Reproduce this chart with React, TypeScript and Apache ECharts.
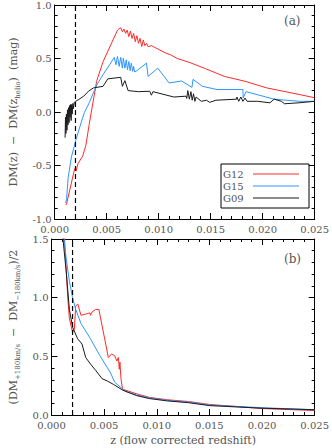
import React, { useEffect, useRef } from "react";
import * as echarts from "echarts";

// ---- Data (z, value) ----
const zTickLabels = ["0.000", "0.005", "0.010", "0.015", "0.020", "0.025"];
const topYTicks = ["-1.0", "-0.5", "0.0", "0.5", "1.0"];
const botYTicks = ["0.0", "0.5", "1.0", "1.5"];
const seriesNames = ["G12", "G15", "G09"];
const seriesColors = ["#ff2a2a", "#2e95ff", "#1a1a1a"];
const zRef = 0.002;

// Panel (a): DM(z) - DM(z_helio)
const g12Top: [number, number][] = [
  [0.00105, -0.87], [0.00114, -0.86], [0.00192, -0.53], [0.00207, -0.55], [0.00223, -0.485],
  [0.0027, -0.41], [0.003, -0.31], [0.00332, -0.115], [0.00362, 0.056], [0.00393, 0.225],
  [0.00403, 0.287], [0.00465, 0.47], [0.00604, 0.765], [0.0062, 0.78], [0.00635, 0.787],
  [0.00651, 0.75], [0.00666, 0.775], [0.00682, 0.735], [0.00697, 0.765], [0.00713, 0.704],
  [0.00728, 0.756], [0.00744, 0.688], [0.00759, 0.735], [0.00775, 0.657], [0.0079, 0.713],
  [0.00806, 0.642], [0.00821, 0.688], [0.00837, 0.611], [0.00852, 0.673], [0.00867, 0.62],
  [0.00883, 0.642], [0.00898, 0.611], [0.0093, 0.62], [0.0107, 0.55], [0.01115, 0.534],
  [0.0118, 0.5], [0.013, 0.462], [0.0145, 0.405], [0.0163, 0.333], [0.0183, 0.287],
  [0.0204, 0.225], [0.0235, 0.164], [0.025, 0.133],
];
const g15Top: [number, number][] = [
  [0.00105, -0.85], [0.00114, -0.82], [0.0013, -0.61], [0.00161, -0.42], [0.00207, -0.25],
  [0.00254, -0.1], [0.00285, -0.006], [0.00332, 0.086], [0.00378, 0.194], [0.00409, 0.26],
  [0.00465, 0.35], [0.00527, 0.44], [0.00573, 0.51], [0.00589, 0.441], [0.00604, 0.519],
  [0.0062, 0.426], [0.00635, 0.51], [0.00651, 0.41], [0.0066, 0.503], [0.00675, 0.41],
  [0.00688, 0.488], [0.007, 0.395], [0.00713, 0.472], [0.00725, 0.386], [0.00737, 0.457],
  [0.0075, 0.38], [0.00759, 0.426], [0.00768, 0.374], [0.0079, 0.386], [0.00883, 0.457],
  [0.00898, 0.333], [0.00991, 0.41], [0.011, 0.271], [0.0122, 0.29], [0.0132, 0.23],
  [0.0133, 0.305], [0.0142, 0.24], [0.0156, 0.21], [0.0181, 0.21], [0.01812, 0.13],
  [0.0184, 0.19], [0.0211, 0.12], [0.0235, 0.1], [0.025, 0.1],
];
const g09Top: [number, number][] = [
  [0.001, -0.24], [0.00104, -0.05], [0.00108, -0.2], [0.00113, -0.02], [0.00118, -0.17],
  [0.00123, 0.02], [0.00128, -0.12], [0.00133, 0.04], [0.00138, -0.1], [0.00143, 0.06],
  [0.00148, -0.05], [0.00153, 0.07], [0.00158, -0.08], [0.00163, 0.07], [0.00168, -0.02],
  [0.00175, 0.08], [0.0018, 0.03], [0.00188, 0.09], [0.00201, 0.1], [0.00232, 0.117],
  [0.00279, 0.148], [0.00325, 0.194], [0.00372, 0.225], [0.00465, 0.24], [0.00511, 0.31],
  [0.00635, 0.324], [0.00651, 0.24], [0.00675, 0.293], [0.00706, 0.2], [0.00806, 0.19],
  [0.00914, 0.194], [0.0093, 0.157], [0.00945, 0.19], [0.01146, 0.14], [0.01264, 0.148],
  [0.0127, 0.127], [0.0128, 0.2], [0.01295, 0.12], [0.0131, 0.19], [0.01322, 0.11],
  [0.01335, 0.17], [0.01348, 0.1], [0.0136, 0.14], [0.0141, 0.1], [0.0146, 0.11],
  [0.0149, 0.09], [0.0155, 0.11], [0.0175, 0.12], [0.01752, 0.14], [0.0177, 0.1],
  [0.0179, 0.14], [0.0181, 0.1], [0.0183, 0.13], [0.0185, 0.1], [0.0195, 0.1],
  [0.0207, 0.086], [0.0211, 0.12], [0.0218, 0.1], [0.0221, 0.077], [0.0235, 0.086], [0.025, 0.1],
];

// Panel (b): (DM+180km/s - DM-180km/s)/2
const g12Bot: [number, number][] = [
  [0.00115, 1.7], [0.00124, 1.5], [0.00155, 0.99], [0.0017, 0.82], [0.002, 0.705],
  [0.00217, 0.73], [0.0023, 0.93], [0.0025, 0.945], [0.0028, 0.85], [0.00325, 0.86],
  [0.00365, 0.87], [0.0037, 0.85], [0.00387, 0.88], [0.0042, 0.9], [0.0045, 0.9],
  [0.0054, 0.49], [0.0057, 0.52], [0.006, 0.505], [0.0062, 0.46], [0.00635, 0.49],
  [0.00644, 0.39], [0.0065, 0.45], [0.0066, 0.31], [0.00675, 0.22], [0.0081, 0.18],
  [0.0093, 0.15], [0.011, 0.13], [0.013, 0.115], [0.015, 0.09], [0.02, 0.055], [0.025, 0.038],
];
const g15Bot: [number, number][] = [
  [0.0011, 1.7], [0.00118, 1.5], [0.0014, 1.33], [0.0017, 1.14], [0.002, 1.0],
  [0.0023, 0.9], [0.0028, 0.78], [0.0037, 0.65], [0.0046, 0.505], [0.0056, 0.36],
  [0.006, 0.28], [0.0065, 0.24], [0.0071, 0.2], [0.0081, 0.17], [0.0093, 0.145],
  [0.011, 0.125], [0.013, 0.11], [0.015, 0.085], [0.02, 0.062], [0.025, 0.045],
];
const g09Bot: [number, number][] = [
  [0.001, 1.7], [0.00109, 1.5], [0.0014, 1.22], [0.0017, 0.9], [0.002, 0.75],
  [0.00248, 0.65], [0.0029, 0.605], [0.00325, 0.49], [0.0037, 0.435], [0.0042, 0.38],
  [0.0048, 0.31], [0.0053, 0.29], [0.0059, 0.26], [0.0068, 0.21], [0.0081, 0.165],
  [0.0093, 0.14], [0.011, 0.12], [0.013, 0.105], [0.015, 0.08], [0.02, 0.058], [0.025, 0.045],
];

const FONT = "DejaVu Serif";
const TXT = "#555";

export default function App() {
  const ref = useRef<HTMLDivElement>(null);
  useEffect(() => {
    if (!ref.current) return;
    const chart = echarts.init(ref.current, undefined, { renderer: "svg" });

    const axisLine = { show: true, onZero: false, lineStyle: { color: "#000", width: 1 } };
    const tick = { show: true, inside: true, length: 6, lineStyle: { color: "#000", width: 1 } };
    const minor = { show: true, splitNumber: 5, length: 3, lineStyle: { color: "#000", width: 1 } };
    const lbl = { color: TXT, fontFamily: FONT, fontSize: 10 };

    const xBase = (grid: number, pos: string, showLabel: boolean, extra: any = {}) => ({
      type: "value", gridIndex: grid, position: pos, min: 0, max: 0.025, interval: 0.005,
      axisLine, axisTick: tick, minorTick: minor, splitLine: { show: false },
      axisLabel: {
        show: showLabel, margin: 5, ...lbl,
        formatter: (v: number) => zTickLabels[Math.round(v / 0.005)] ?? "",
      },
      ...extra,
    });
    const yBase = (grid: number, pos: string, min: number, max: number, labels: string[] | null, extra: any = {}) => ({
      type: "value", gridIndex: grid, position: pos, min, max, interval: 0.5,
      axisLine, axisTick: tick, minorTick: minor, splitLine: { show: false },
      axisLabel: {
        show: !!labels, margin: 3, ...lbl,
        formatter: (v: number) => (labels ? labels[Math.round((v - min) / 0.5)] ?? "" : ""),
      },
      ...extra,
    });

    const nameRich = {
      n: { fontFamily: FONT, fontSize: 11, color: TXT, lineHeight: 16 },
      s: { fontFamily: FONT, fontSize: 7, color: TXT, lineHeight: 16, verticalAlign: "bottom" },
    };

    const mkSeries = (data: [number, number][], i: number, grid: number) => ({
      type: "line", name: seriesNames[i], xAxisIndex: grid * 2, yAxisIndex: grid * 2,
      data, showSymbol: false, symbol: "none", clip: true,
      lineStyle: { color: seriesColors[i], width: 1 }, itemStyle: { color: seriesColors[i] },
      z: 2 + i,
    });
    const refLine = (grid: number, lo: number, hi: number) => ({
      type: "line", name: "zref", xAxisIndex: grid * 2, yAxisIndex: grid * 2,
      data: [[zRef, lo], [zRef, hi]], showSymbol: false, symbol: "none", silent: true,
      lineStyle: { color: "#000", type: [5, 3], width: 1.2 }, z: 6,
    });

    const legX = 221, legY = 164, legRow = 12;
    const legendGraphics: any[] = [
      { type: "rect", shape: { x: legX, y: legY, width: 88, height: 44 },
        style: { fill: "#fff", stroke: "#000", lineWidth: 1 }, z: 20 },
    ];
    seriesNames.forEach((nm, i) => {
      const cy = legY + 10 + i * legRow;
      legendGraphics.push({
        type: "text", x: legX + 2, y: cy, z: 21,
        style: { text: nm, fill: TXT, font: `10px "${FONT}"`, verticalAlign: "middle", align: "left" },
      });
      legendGraphics.push({
        type: "line", shape: { x1: legX + 32, y1: cy, x2: legX + 78, y2: cy }, z: 21,
        style: { stroke: seriesColors[i], lineWidth: 1 },
      });
    });

    chart.setOption({
      animation: false,
      backgroundColor: "#fff",
      grid: [
        { left: 46, top: 3, width: 269, height: 216 },
        { left: 46, top: 239, width: 269, height: 176 },
      ],
      xAxis: [
        xBase(0, "bottom", true),
        xBase(0, "top", false),
        xBase(1, "bottom", true, {
          name: "z (flow corrected redshift)", nameLocation: "middle", nameGap: 20,
          nameTextStyle: { color: TXT, fontFamily: FONT, fontSize: 11 },
        }),
        xBase(1, "top", false),
      ],
      yAxis: [
        yBase(0, "left", -1, 1, topYTicks, {
          name: "{n|DM(z)  −  DM(z}{s|helio}{n|)  (mag)}", nameLocation: "middle", nameGap: 30,
          nameTextStyle: { rich: nameRich },
        }),
        yBase(0, "right", -1, 1, null),
        yBase(1, "left", 0, 1.5, botYTicks, {
          name: "{n|(DM}{s|+180km/s}{n|  −  DM}{s|−180km/s}{n|)/2}", nameLocation: "middle", nameGap: 30,
          nameTextStyle: { rich: nameRich },
        }),
        yBase(1, "right", 0, 1.5, null),
      ],
      graphic: [
        { type: "text", x: 284, y: 21, style: { text: "(a)", fill: TXT, font: `12px "${FONT}"`, verticalAlign: "middle" } },
        { type: "text", x: 284, y: 259, style: { text: "(b)", fill: TXT, font: `12px "${FONT}"`, verticalAlign: "middle" } },
        ...legendGraphics,
      ],
      series: [
        mkSeries(g12Top, 0, 0),
        mkSeries(g15Top, 1, 0),
        mkSeries(g09Top, 2, 0),
        refLine(0, -1, 1),
        mkSeries(g12Bot, 0, 1),
        mkSeries(g15Bot, 1, 1),
        mkSeries(g09Bot, 2, 1),
        refLine(1, 0, 1.5),
      ],
    });
    return () => chart.dispose();
  }, []);
  return <div ref={ref} style={{ width: 332, height: 448, position: "absolute", left: 0, top: 0 }} />;
}
